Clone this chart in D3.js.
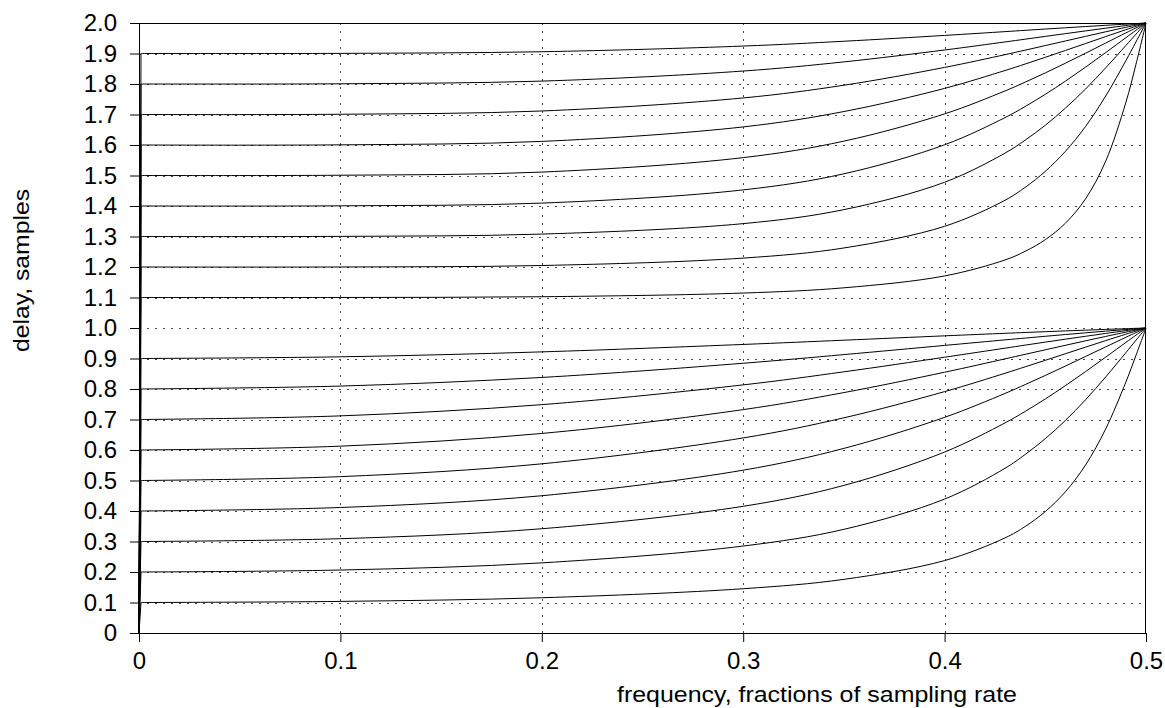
<!DOCTYPE html>
<html>
<head>
<meta charset="utf-8">
<title>fractional delay</title>
<script src="https://cdn.jsdelivr.net/npm/d3@7"></script>
<style>
    body { margin: 0; background: #fff; }
    #chart-area { width: 1165px; height: 708px; }
    .axis text { font-family: "Liberation Sans", Arial, sans-serif; font-size: 24px; fill: #000; }
    .axis line { stroke: #000; }
    .grid line { stroke: #444; stroke-dasharray: 2,6; }
    .curve { fill: none; stroke: #000; stroke-width: 1; }
    .title { font-family: "Liberation Sans", Arial, sans-serif; font-size: 22px; fill: #000; }
</style>
</head>
<body>
<div id="chart-area"></div>
<script>

// frequency points (fractions of sampling rate) the curves were read at
const freqs = [0, 0.001, 0.1, 0.2, 0.3, 0.35, 0.4, 0.43, 0.44, 0.45, 0.46, 0.47, 0.48, 0.49, 0.495, 0.5];

// delay in samples, one array per curve
const delay01 = [0, 0.1, 0.1036, 0.1156, 0.1452, 0.1759, 0.2375, 0.3118, 0.3492, 0.3982, 0.4632, 0.551, 0.6694, 0.8226, 0.9099, 1];
const delay02 = [0, 0.2, 0.2065, 0.230, 0.2851, 0.3399, 0.4391, 0.5401, 0.5853, 0.6372, 0.6971, 0.7648, 0.8396, 0.9191, 0.9597, 1];
const delay03 = [0, 0.3, 0.3092, 0.3419, 0.4154, 0.4839, 0.5933, 0.6889, 0.7265, 0.7674, 0.8112, 0.8571, 0.9046, 0.9526, 0.9765, 1];
const delay04 = [0, 0.4, 0.4115, 0.4501, 0.5339, 0.6053, 0.7071, 0.7855, 0.8144, 0.8444, 0.8753, 0.9067, 0.9382, 0.9695, 0.9849, 1];
const delay05 = [0, 0.5, 0.5127, 0.5547, 0.6396, 0.7055, 0.7914, 0.8516, 0.8727, 0.8941, 0.9157, 0.9373, 0.9587, 0.9797, 0.9899, 1];
const delay06 = [0, 0.6, 0.6126, 0.6543, 0.7324, 0.7883, 0.855, 0.8988, 0.9137, 0.9285, 0.9433, 0.958, 0.9724, 0.9864, 0.9933, 1];
const delay07 = [0, 0.7, 0.7119, 0.7487, 0.8135, 0.8563, 0.9042, 0.9339, 0.9439, 0.9537, 0.9634, 0.9729, 0.9822, 0.9912, 0.9957, 1];
const delay08 = [0, 0.8, 0.8096, 0.8379, 0.8844, 0.9128, 0.9429, 0.9611, 0.967, 0.9728, 0.9786, 0.9842, 0.9897, 0.9949, 0.9975, 1];
const delay09 = [0, 0.9, 0.9055, 0.9217, 0.9461, 0.960, 0.9743, 0.9826, 0.9853, 0.9879, 0.9905, 0.9929, 0.9954, 0.9977, 0.9989, 1];
const delay11 = [0, 1.1, 1.1001, 1.1025, 1.1146, 1.1318, 1.1707, 1.2231, 1.2514, 1.2896, 1.3437, 1.4236, 1.5472, 1.7394, 1.8641, 2];
const delay12 = [0, 1.2, 1.2001, 1.2049, 1.2292, 1.2624, 1.3334, 1.4189, 1.4612, 1.5136, 1.5793, 1.6609, 1.7608, 1.8763, 1.9379, 2];
const delay13 = [0, 1.3, 1.3004, 1.3079, 1.3422, 1.3881, 1.4779, 1.5734, 1.6159, 1.6648, 1.7211, 1.7837, 1.8531, 1.9261, 1.9632, 2];
const delay14 = [0, 1.4, 1.4006, 1.4095, 1.4528, 1.5056, 1.6007, 1.6898, 1.7262, 1.7662, 1.8094, 1.8553, 1.9031, 1.9517, 1.976, 2];
const delay15 = [0, 1.5, 1.5009, 1.5112, 1.5586, 1.6127, 1.702, 1.7773, 1.8061, 1.8364, 1.8682, 1.901, 1.9343, 1.9675, 1.9838, 2];
const delay16 = [0, 1.6, 1.6005, 1.6118, 1.6593, 1.7097, 1.7856, 1.8442, 1.8655, 1.8875, 1.91, 1.9327, 1.9555, 1.9781, 1.9891, 2];
const delay17 = [0, 1.7, 1.7008, 1.7115, 1.7543, 1.796, 1.8544, 1.8962, 1.911, 1.926, 1.9411, 1.9562, 1.9712, 1.9858, 1.993, 2];
const delay18 = [0, 1.8, 1.8007, 1.8095, 1.8425, 1.8725, 1.9115, 1.9379, 1.9469, 1.9561, 1.9651, 1.9741, 1.983, 1.9916, 1.9959, 2];
const delay19 = [0, 1.9, 1.9004, 1.9058, 1.9244, 1.9402, 1.9593, 1.9717, 1.976, 1.9802, 1.9843, 1.9884, 1.9924, 1.9962, 1.9981, 2];

const curves = [delay01, delay02, delay03, delay04, delay05, delay06, delay07, delay08, delay09,
    delay11, delay12, delay13, delay14, delay15, delay16, delay17, delay18, delay19];

// ticks
const xTickValues = [0, 0.1, 0.2, 0.3, 0.4, 0.5];
const xTickLabels = ["0", "0.1", "0.2", "0.3", "0.4", "0.5"];
const yTickValues = [0, 0.1, 0.2, 0.3, 0.4, 0.5, 0.6, 0.7, 0.8, 0.9, 1.0,
    1.1, 1.2, 1.3, 1.4, 1.5, 1.6, 1.7, 1.8, 1.9, 2.0];
const yTickLabels = ["0", "0.1", "0.2", "0.3", "0.4", "0.5", "0.6", "0.7", "0.8", "0.9", "1.0",
    "1.1", "1.2", "1.3", "1.4", "1.5", "1.6", "1.7", "1.8", "1.9", "2.0"];

const xTitle = "frequency, fractions of sampling rate";
const yTitle = "delay, samples";


class DelayVis {

    constructor(parentElement) {
        this.parentElement = parentElement;
        this.initVis();
    }

    initVis() {
        let vis = this;

        vis.margin = {top: 23, right: 19, bottom: 75, left: 139};
        vis.width = 1165 - vis.margin.left - vis.margin.right;
        vis.height = 708 - vis.margin.top - vis.margin.bottom;

        vis.svg = d3.select("#" + vis.parentElement).append("svg")
            .attr("width", vis.width + vis.margin.left + vis.margin.right)
            .attr("height", vis.height + vis.margin.top + vis.margin.bottom)
            .append("g")
            .attr("transform", `translate(${vis.margin.left}, ${vis.margin.top})`);

        // scales
        vis.x = d3.scaleLinear().domain([0, 0.5]).range([0, vis.width]);
        vis.y = d3.scaleLinear().domain([0, 2]).range([vis.height, 0]);

        // dotted grid
        vis.svg.append("g")
            .attr("class", "grid")
            .selectAll("line")
            .data(yTickValues.slice(1, -1))
            .enter()
            .append("line")
            .attr("x1", 0)
            .attr("x2", vis.width)
            .attr("y1", d => Math.round(vis.y(d)) + 0.5)
            .attr("y2", d => Math.round(vis.y(d)) + 0.5);

        vis.svg.append("g")
            .attr("class", "grid")
            .selectAll("line")
            .data(xTickValues.slice(1, -1))
            .enter()
            .append("line")
            .attr("y1", 0)
            .attr("y2", vis.height)
            .attr("x1", d => Math.round(vis.x(d)) + 0.5)
            .attr("x2", d => Math.round(vis.x(d)) + 0.5);

        // axes
        vis.xAxis = d3.axisBottom(vis.x)
            .tickValues(xTickValues)
            .tickFormat((d, i) => xTickLabels[i])
            .tickSize(9)
            .tickPadding(10);

        vis.yAxis = d3.axisLeft(vis.y)
            .tickValues(yTickValues)
            .tickFormat((d, i) => yTickLabels[i])
            .tickSize(9)
            .tickPadding(13);

        vis.svg.append("g")
            .attr("class", "x-axis axis")
            .attr("transform", "translate(0," + vis.height + ")")
            .call(vis.xAxis)
            .select(".domain").remove();

        vis.svg.append("g")
            .attr("class", "y-axis axis")
            .call(vis.yAxis)
            .select(".domain").remove();

        // curves: straight jump from the origin, then a smooth line
        vis.jump = d3.line()
            .x((d, i) => vis.x(freqs[i]))
            .y(d => vis.y(d));

        vis.line = d3.line()
            .x(d => vis.x(d.f))
            .y(d => vis.y(d.v))
            .curve(d3.curveCatmullRom.alpha(0.5));

        vis.svg.selectAll(".jump")
            .data(curves)
            .enter()
            .append("path")
            .attr("class", "curve jump")
            .attr("d", d => vis.jump(d.slice(0, 2)));

        vis.svg.selectAll(".smooth")
            .data(curves)
            .enter()
            .append("path")
            .attr("class", "curve smooth")
            .attr("d", d => vis.line(d.map((v, i) => ({f: freqs[i], v: v})).slice(1)));

        // frame
        vis.svg.append("rect")
            .attr("x", 0.5)
            .attr("y", 0.5)
            .attr("width", vis.width - 1)
            .attr("height", vis.height)
            .attr("fill", "none")
            .attr("stroke", "#000");

        // axis titles
        vis.svg.append("text")
            .attr("class", "title")
            .attr("x", 1017 - vis.margin.left)
            .attr("y", vis.height + 69)
            .attr("text-anchor", "end")
            .attr("textLength", 400)
            .attr("lengthAdjust", "spacingAndGlyphs")
            .text(xTitle);

        vis.svg.append("text")
            .attr("class", "title")
            .attr("transform", `translate(${29 - vis.margin.left}, ${352 - vis.margin.top}) rotate(-90)`)
            .attr("text-anchor", "start")
            .attr("textLength", 163)
            .attr("lengthAdjust", "spacingAndGlyphs")
            .text(yTitle);
    }
}

let myDelayVis = new DelayVis("chart-area");

</script>
</body>
</html>
